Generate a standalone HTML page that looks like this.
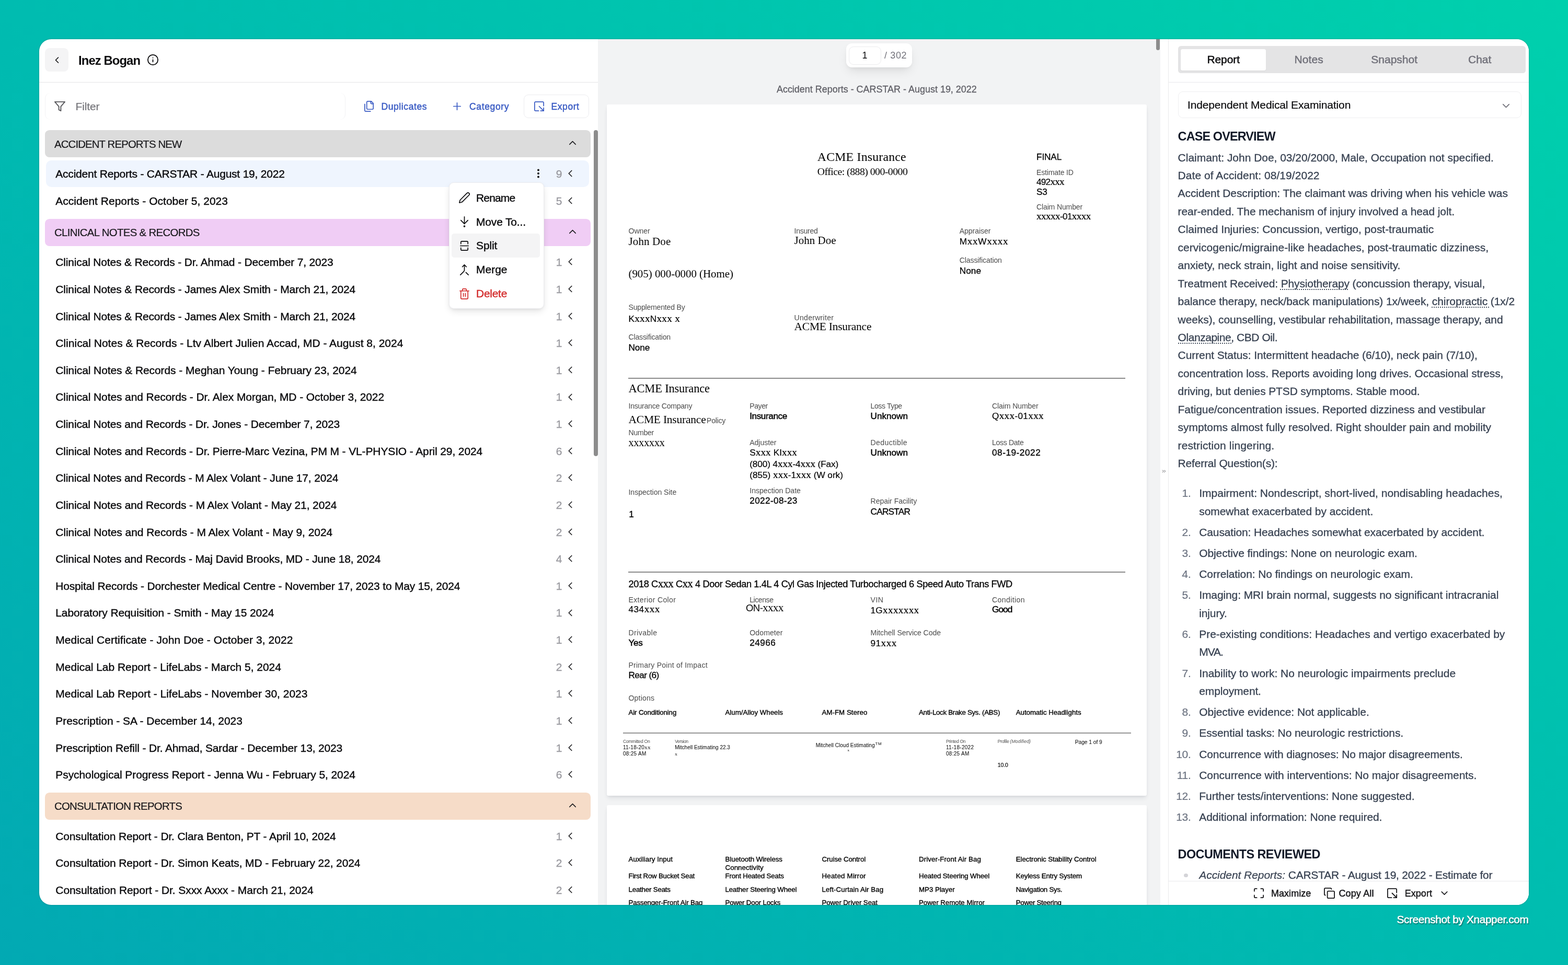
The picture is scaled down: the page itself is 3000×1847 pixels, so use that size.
<!DOCTYPE html><html lang="en"><head><meta charset="utf-8"><title>Inez Bogan - Case Documents</title><style>
*{box-sizing:border-box;margin:0;padding:0}
html,body{width:3000px;height:1847px;overflow:hidden}
body{position:relative;font-family:"Liberation Sans",sans-serif;color:#09090b;background:linear-gradient(to top right,#02a9b3 0%,#00bcb0 50%,#00d0ad 100%)}
.b,.t,.i{position:absolute;display:block}
.t{white-space:nowrap;line-height:1}
.sf{font-family:"Liberation Serif",serif}
#win{position:absolute;left:75px;top:75px;width:2850px;height:1657px;border-radius:23px;overflow:hidden;background:#fff;box-shadow:0 0 2.5px rgba(0,50,50,.4)}
#win>.o{position:absolute;left:-75px;top:-75px;width:3000px;height:1847px}
</style></head><body>
<div id="win"><div class="o">
<div class="b" style="left:86.2px;top:92px;width:45px;height:45px;background:#f4f4f5;border-radius:8.6px;"></div>
<svg class="i" style="left:99px;top:105px;width:20px;height:20px;" viewBox="0 0 24 24" fill="none" stroke="#09090b" stroke-width="1.9" stroke-linecap="round" stroke-linejoin="round"><path d="m15 18-6-6 6-6"/></svg>
<span class="t" style="left:150px;top:102px;font-size:23.8px;line-height:27px;letter-spacing:-0.88px;color:#09090b;font-weight:700;">Inez Bogan</span>
<svg class="i" style="left:280.5px;top:103.1px;width:23px;height:23px;" viewBox="0 0 24 24" fill="none" stroke="#09090b" stroke-width="1.9" stroke-linecap="round" stroke-linejoin="round"><circle cx="12" cy="12" r="10"/><path d="M12 16v-4"/><path d="M12 8h.01"/></svg>
<div class="b" style="left:75px;top:156.8px;width:1069px;height:1.4px;background:#e4e4e7;"></div>
<div class="b" style="left:86px;top:177.5px;width:575px;height:51.6px;background:#fff;border-radius:10px;border-left:1.4px solid #f1f1f3;border-right:1.4px solid #f1f1f3;"></div>
<svg class="i" style="left:102.5px;top:192.1px;width:23px;height:23px;" viewBox="0 0 24 24" fill="none" stroke="#58585c" stroke-width="2" stroke-linecap="round" stroke-linejoin="round"><polygon points="22 3 2 3 10 12.46 10 19 14 21 14 12.46 22 3"/></svg>
<span class="t" style="left:144.5px;top:192px;font-size:20.98px;line-height:23px;letter-spacing:-0.14px;color:#737378;-webkit-text-stroke:0.2px;">Filter</span>
<svg class="i" style="left:694.5px;top:192px;width:23px;height:23px;" viewBox="0 0 24 24" fill="none" stroke="#3b5cc4" stroke-width="1.8" stroke-linecap="round" stroke-linejoin="round"><path d="M20 7h-3a2 2 0 0 1-2-2V2"/><path d="M9 18a2 2 0 0 1-2-2V4a2 2 0 0 1 2-2h7l4 4v10a2 2 0 0 1-2 2Z"/><path d="M3 7.6v12.8A1.6 1.6 0 0 0 4.6 22h9.8"/></svg>
<span class="t" style="left:729.5px;top:194px;font-size:17.5px;line-height:20px;letter-spacing:0.59px;color:#3b5cc4;-webkit-text-stroke:0.5px;">Duplicates</span>
<svg class="i" style="left:862.5px;top:192px;width:23px;height:23px;" viewBox="0 0 24 24" fill="none" stroke="#3b5cc4" stroke-width="1.8" stroke-linecap="round" stroke-linejoin="round"><path d="M5 12h14"/><path d="M12 5v14"/></svg>
<span class="t" style="left:898px;top:194px;font-size:17.5px;line-height:20px;letter-spacing:0.64px;color:#3b5cc4;-webkit-text-stroke:0.5px;">Category</span>
<div class="b" style="left:1002px;top:181px;width:124.5px;height:45px;background:#fff;border-radius:9px;border:1.4px solid #ececef;"></div>
<svg class="i" style="left:1019.5px;top:192px;width:23px;height:23px;" viewBox="0 0 24 24" fill="none" stroke="#3b5cc4" stroke-width="1.8" stroke-linecap="round" stroke-linejoin="round"><path d="M21 11V5a2 2 0 0 0-2-2H5a2 2 0 0 0-2 2v14a2 2 0 0 0 2 2h6"/><path d="m21 21-9-9"/><path d="M21 15v6h-6"/></svg>
<span class="t" style="left:1054.5px;top:194px;font-size:17.5px;line-height:20px;letter-spacing:0.58px;color:#3b5cc4;-webkit-text-stroke:0.5px;">Export</span>
<div class="b" style="left:86px;top:249px;width:1044px;height:52px;background:#dcdcdc;border-radius:8.6px;"></div>
<span class="t" style="left:104px;top:265px;font-size:20.4px;line-height:22px;letter-spacing:-0.88px;color:#18181b;-webkit-text-stroke:0.2px;">ACCIDENT REPORTS NEW</span>
<svg class="i" style="left:1083.8px;top:261.8px;width:23px;height:23px;" viewBox="0 0 24 24" fill="none" stroke="#18181b" stroke-width="1.5" stroke-linecap="round" stroke-linejoin="round"><path d="m18 15-6-6-6 6"/></svg>
<div class="b" style="left:88px;top:307.1px;width:1038.5px;height:51.2px;background:#eff5fe;border-radius:10px;"></div>
<svg class="i" style="left:1018.5px;top:320.9px;width:22px;height:22px;" viewBox="0 0 24 24" fill="none" stroke="#09090b" stroke-width="2.3" stroke-linecap="round" stroke-linejoin="round"><circle cx="12" cy="12" r="1"/><circle cx="12" cy="5" r="1"/><circle cx="12" cy="19" r="1"/></svg>
<span class="t" style="left:106.3px;top:321px;font-size:20.98px;line-height:23px;letter-spacing:-0.2px;color:#09090b;-webkit-text-stroke:0.4px;">Accident Reports - CARSTAR - August 19, 2022</span>
<span class="t" style="left:1063.63px;top:321px;font-size:20.98px;line-height:23px;color:#9b9ba1;-webkit-text-stroke:0.4px;">9</span>
<svg class="i" style="left:1079.8px;top:321.1px;width:22px;height:22px;" viewBox="0 0 24 24" fill="none" stroke="#18181b" stroke-width="1.8" stroke-linecap="round" stroke-linejoin="round"><path d="m15 18-6-6 6-6"/></svg>
<span class="t" style="left:106.3px;top:373px;font-size:20.98px;line-height:23px;letter-spacing:0.03px;color:#09090b;-webkit-text-stroke:0.4px;">Accident Reports - October 5, 2023</span>
<span class="t" style="left:1063.63px;top:373px;font-size:20.98px;line-height:23px;color:#9b9ba1;-webkit-text-stroke:0.4px;">5</span>
<svg class="i" style="left:1079.8px;top:373px;width:22px;height:22px;" viewBox="0 0 24 24" fill="none" stroke="#18181b" stroke-width="1.8" stroke-linecap="round" stroke-linejoin="round"><path d="m15 18-6-6 6-6"/></svg>
<div class="b" style="left:86px;top:419.2px;width:1044px;height:51.5px;background:#f0cdf5;border-radius:8.6px;"></div>
<span class="t" style="left:104px;top:434px;font-size:20.4px;line-height:22px;letter-spacing:-0.67px;color:#18181b;-webkit-text-stroke:0.2px;">CLINICAL NOTES &amp; RECORDS</span>
<svg class="i" style="left:1083.8px;top:432px;width:23px;height:23px;" viewBox="0 0 24 24" fill="none" stroke="#18181b" stroke-width="1.5" stroke-linecap="round" stroke-linejoin="round"><path d="m18 15-6-6-6 6"/></svg>
<span class="t" style="left:106.3px;top:490px;font-size:20.98px;line-height:23px;letter-spacing:-0.15px;color:#09090b;-webkit-text-stroke:0.4px;">Clinical Notes &amp; Records - Dr. Ahmad - December 7, 2023</span>
<span class="t" style="left:1063.63px;top:490px;font-size:20.98px;line-height:23px;color:#9b9ba1;-webkit-text-stroke:0.4px;">1</span>
<svg class="i" style="left:1079.8px;top:490.4px;width:22px;height:22px;" viewBox="0 0 24 24" fill="none" stroke="#18181b" stroke-width="1.8" stroke-linecap="round" stroke-linejoin="round"><path d="m15 18-6-6 6-6"/></svg>
<span class="t" style="left:106.3px;top:542px;font-size:20.98px;line-height:23px;letter-spacing:-0.13px;color:#09090b;-webkit-text-stroke:0.4px;">Clinical Notes &amp; Records - James Alex Smith - March 21, 2024</span>
<span class="t" style="left:1063.63px;top:542px;font-size:20.98px;line-height:23px;color:#9b9ba1;-webkit-text-stroke:0.4px;">1</span>
<svg class="i" style="left:1079.8px;top:542.03px;width:22px;height:22px;" viewBox="0 0 24 24" fill="none" stroke="#18181b" stroke-width="1.8" stroke-linecap="round" stroke-linejoin="round"><path d="m15 18-6-6 6-6"/></svg>
<span class="t" style="left:106.3px;top:594px;font-size:20.98px;line-height:23px;letter-spacing:-0.13px;color:#09090b;-webkit-text-stroke:0.4px;">Clinical Notes &amp; Records - James Alex Smith - March 21, 2024</span>
<span class="t" style="left:1063.63px;top:594px;font-size:20.98px;line-height:23px;color:#9b9ba1;-webkit-text-stroke:0.4px;">1</span>
<svg class="i" style="left:1079.8px;top:593.66px;width:22px;height:22px;" viewBox="0 0 24 24" fill="none" stroke="#18181b" stroke-width="1.8" stroke-linecap="round" stroke-linejoin="round"><path d="m15 18-6-6 6-6"/></svg>
<span class="t" style="left:106.3px;top:645px;font-size:20.98px;line-height:23px;letter-spacing:0.01px;color:#09090b;-webkit-text-stroke:0.4px;">Clinical Notes &amp; Records - Ltv Albert Julien Accad, MD - August 8, 2024</span>
<span class="t" style="left:1063.63px;top:645px;font-size:20.98px;line-height:23px;color:#9b9ba1;-webkit-text-stroke:0.4px;">1</span>
<svg class="i" style="left:1079.8px;top:645.29px;width:22px;height:22px;" viewBox="0 0 24 24" fill="none" stroke="#18181b" stroke-width="1.8" stroke-linecap="round" stroke-linejoin="round"><path d="m15 18-6-6 6-6"/></svg>
<span class="t" style="left:106.3px;top:697px;font-size:20.98px;line-height:23px;letter-spacing:-0.07px;color:#09090b;-webkit-text-stroke:0.4px;">Clinical Notes &amp; Records - Meghan Young - February 23, 2024</span>
<span class="t" style="left:1063.63px;top:697px;font-size:20.98px;line-height:23px;color:#9b9ba1;-webkit-text-stroke:0.4px;">1</span>
<svg class="i" style="left:1079.8px;top:696.92px;width:22px;height:22px;" viewBox="0 0 24 24" fill="none" stroke="#18181b" stroke-width="1.8" stroke-linecap="round" stroke-linejoin="round"><path d="m15 18-6-6 6-6"/></svg>
<span class="t" style="left:106.3px;top:748px;font-size:20.98px;line-height:23px;letter-spacing:-0.08px;color:#09090b;-webkit-text-stroke:0.4px;">Clinical Notes and Records - Dr. Alex Morgan, MD - October 3, 2022</span>
<span class="t" style="left:1063.63px;top:748px;font-size:20.98px;line-height:23px;color:#9b9ba1;-webkit-text-stroke:0.4px;">1</span>
<svg class="i" style="left:1079.8px;top:748.55px;width:22px;height:22px;" viewBox="0 0 24 24" fill="none" stroke="#18181b" stroke-width="1.8" stroke-linecap="round" stroke-linejoin="round"><path d="m15 18-6-6 6-6"/></svg>
<span class="t" style="left:106.3px;top:800px;font-size:20.98px;line-height:23px;letter-spacing:-0.13px;color:#09090b;-webkit-text-stroke:0.4px;">Clinical Notes and Records - Dr. Jones - December 7, 2023</span>
<span class="t" style="left:1063.63px;top:800px;font-size:20.98px;line-height:23px;color:#9b9ba1;-webkit-text-stroke:0.4px;">1</span>
<svg class="i" style="left:1079.8px;top:800.18px;width:22px;height:22px;" viewBox="0 0 24 24" fill="none" stroke="#18181b" stroke-width="1.8" stroke-linecap="round" stroke-linejoin="round"><path d="m15 18-6-6 6-6"/></svg>
<span class="t" style="left:106.3px;top:852px;font-size:20.98px;line-height:23px;letter-spacing:-0.11px;color:#09090b;-webkit-text-stroke:0.4px;">Clinical Notes and Records - Dr. Pierre-Marc Vezina, PM M - VL-PHYSIO - April 29, 2024</span>
<span class="t" style="left:1063.63px;top:852px;font-size:20.98px;line-height:23px;color:#9b9ba1;-webkit-text-stroke:0.4px;">6</span>
<svg class="i" style="left:1079.8px;top:851.81px;width:22px;height:22px;" viewBox="0 0 24 24" fill="none" stroke="#18181b" stroke-width="1.8" stroke-linecap="round" stroke-linejoin="round"><path d="m15 18-6-6 6-6"/></svg>
<span class="t" style="left:106.3px;top:903px;font-size:20.98px;line-height:23px;letter-spacing:-0.16px;color:#09090b;-webkit-text-stroke:0.4px;">Clinical Notes and Records - M Alex Volant - June 17, 2024</span>
<span class="t" style="left:1063.63px;top:903px;font-size:20.98px;line-height:23px;color:#9b9ba1;-webkit-text-stroke:0.4px;">2</span>
<svg class="i" style="left:1079.8px;top:903.44px;width:22px;height:22px;" viewBox="0 0 24 24" fill="none" stroke="#18181b" stroke-width="1.8" stroke-linecap="round" stroke-linejoin="round"><path d="m15 18-6-6 6-6"/></svg>
<span class="t" style="left:106.3px;top:955px;font-size:20.98px;line-height:23px;letter-spacing:-0.11px;color:#09090b;-webkit-text-stroke:0.4px;">Clinical Notes and Records - M Alex Volant - May 21, 2024</span>
<span class="t" style="left:1063.63px;top:955px;font-size:20.98px;line-height:23px;color:#9b9ba1;-webkit-text-stroke:0.4px;">2</span>
<svg class="i" style="left:1079.8px;top:955.07px;width:22px;height:22px;" viewBox="0 0 24 24" fill="none" stroke="#18181b" stroke-width="1.8" stroke-linecap="round" stroke-linejoin="round"><path d="m15 18-6-6 6-6"/></svg>
<span class="t" style="left:106.3px;top:1007px;font-size:20.98px;line-height:23px;letter-spacing:-0.05px;color:#09090b;-webkit-text-stroke:0.4px;">Clinical Notes and Records - M Alex Volant - May 9, 2024</span>
<span class="t" style="left:1063.63px;top:1007px;font-size:20.98px;line-height:23px;color:#9b9ba1;-webkit-text-stroke:0.4px;">2</span>
<svg class="i" style="left:1079.8px;top:1006.7px;width:22px;height:22px;" viewBox="0 0 24 24" fill="none" stroke="#18181b" stroke-width="1.8" stroke-linecap="round" stroke-linejoin="round"><path d="m15 18-6-6 6-6"/></svg>
<span class="t" style="left:106.3px;top:1058px;font-size:20.98px;line-height:23px;letter-spacing:-0.15px;color:#09090b;-webkit-text-stroke:0.4px;">Clinical Notes and Records - Maj David Brooks, MD - June 18, 2024</span>
<span class="t" style="left:1063.63px;top:1058px;font-size:20.98px;line-height:23px;color:#9b9ba1;-webkit-text-stroke:0.4px;">4</span>
<svg class="i" style="left:1079.8px;top:1058.33px;width:22px;height:22px;" viewBox="0 0 24 24" fill="none" stroke="#18181b" stroke-width="1.8" stroke-linecap="round" stroke-linejoin="round"><path d="m15 18-6-6 6-6"/></svg>
<span class="t" style="left:106.3px;top:1110px;font-size:20.98px;line-height:23px;letter-spacing:-0.16px;color:#09090b;-webkit-text-stroke:0.4px;">Hospital Records - Dorchester Medical Centre - November 17, 2023 to May 15, 2024</span>
<span class="t" style="left:1063.63px;top:1110px;font-size:20.98px;line-height:23px;color:#9b9ba1;-webkit-text-stroke:0.4px;">1</span>
<svg class="i" style="left:1079.8px;top:1109.96px;width:22px;height:22px;" viewBox="0 0 24 24" fill="none" stroke="#18181b" stroke-width="1.8" stroke-linecap="round" stroke-linejoin="round"><path d="m15 18-6-6 6-6"/></svg>
<span class="t" style="left:106.3px;top:1161px;font-size:20.98px;line-height:23px;letter-spacing:-0.09px;color:#09090b;-webkit-text-stroke:0.4px;">Laboratory Requisition - Smith - May 15 2024</span>
<span class="t" style="left:1063.63px;top:1161px;font-size:20.98px;line-height:23px;color:#9b9ba1;-webkit-text-stroke:0.4px;">1</span>
<svg class="i" style="left:1079.8px;top:1161.59px;width:22px;height:22px;" viewBox="0 0 24 24" fill="none" stroke="#18181b" stroke-width="1.8" stroke-linecap="round" stroke-linejoin="round"><path d="m15 18-6-6 6-6"/></svg>
<span class="t" style="left:106.3px;top:1213px;font-size:20.98px;line-height:23px;letter-spacing:0.09px;color:#09090b;-webkit-text-stroke:0.4px;">Medical Certificate - John Doe - October 3, 2022</span>
<span class="t" style="left:1063.63px;top:1213px;font-size:20.98px;line-height:23px;color:#9b9ba1;-webkit-text-stroke:0.4px;">1</span>
<svg class="i" style="left:1079.8px;top:1213.22px;width:22px;height:22px;" viewBox="0 0 24 24" fill="none" stroke="#18181b" stroke-width="1.8" stroke-linecap="round" stroke-linejoin="round"><path d="m15 18-6-6 6-6"/></svg>
<span class="t" style="left:106.3px;top:1265px;font-size:20.98px;line-height:23px;letter-spacing:-0.02px;color:#09090b;-webkit-text-stroke:0.4px;">Medical Lab Report - LifeLabs - March 5, 2024</span>
<span class="t" style="left:1063.63px;top:1265px;font-size:20.98px;line-height:23px;color:#9b9ba1;-webkit-text-stroke:0.4px;">2</span>
<svg class="i" style="left:1079.8px;top:1264.85px;width:22px;height:22px;" viewBox="0 0 24 24" fill="none" stroke="#18181b" stroke-width="1.8" stroke-linecap="round" stroke-linejoin="round"><path d="m15 18-6-6 6-6"/></svg>
<span class="t" style="left:106.3px;top:1316px;font-size:20.98px;line-height:23px;letter-spacing:-0.01px;color:#09090b;-webkit-text-stroke:0.4px;">Medical Lab Report - LifeLabs - November 30, 2023</span>
<span class="t" style="left:1063.63px;top:1316px;font-size:20.98px;line-height:23px;color:#9b9ba1;-webkit-text-stroke:0.4px;">1</span>
<svg class="i" style="left:1079.8px;top:1316.48px;width:22px;height:22px;" viewBox="0 0 24 24" fill="none" stroke="#18181b" stroke-width="1.8" stroke-linecap="round" stroke-linejoin="round"><path d="m15 18-6-6 6-6"/></svg>
<span class="t" style="left:106.3px;top:1368px;font-size:20.98px;line-height:23px;letter-spacing:-0.04px;color:#09090b;-webkit-text-stroke:0.4px;">Prescription - SA - December 14, 2023</span>
<span class="t" style="left:1063.63px;top:1368px;font-size:20.98px;line-height:23px;color:#9b9ba1;-webkit-text-stroke:0.4px;">1</span>
<svg class="i" style="left:1079.8px;top:1368.11px;width:22px;height:22px;" viewBox="0 0 24 24" fill="none" stroke="#18181b" stroke-width="1.8" stroke-linecap="round" stroke-linejoin="round"><path d="m15 18-6-6 6-6"/></svg>
<span class="t" style="left:106.3px;top:1420px;font-size:20.98px;line-height:23px;letter-spacing:-0.14px;color:#09090b;-webkit-text-stroke:0.4px;">Prescription Refill - Dr. Ahmad, Sardar - December 13, 2023</span>
<span class="t" style="left:1063.63px;top:1420px;font-size:20.98px;line-height:23px;color:#9b9ba1;-webkit-text-stroke:0.4px;">1</span>
<svg class="i" style="left:1079.8px;top:1419.74px;width:22px;height:22px;" viewBox="0 0 24 24" fill="none" stroke="#18181b" stroke-width="1.8" stroke-linecap="round" stroke-linejoin="round"><path d="m15 18-6-6 6-6"/></svg>
<span class="t" style="left:106.3px;top:1471px;font-size:20.98px;line-height:23px;letter-spacing:-0.07px;color:#09090b;-webkit-text-stroke:0.4px;">Psychological Progress Report - Jenna Wu - February 5, 2024</span>
<span class="t" style="left:1063.63px;top:1471px;font-size:20.98px;line-height:23px;color:#9b9ba1;-webkit-text-stroke:0.4px;">6</span>
<svg class="i" style="left:1079.8px;top:1471.37px;width:22px;height:22px;" viewBox="0 0 24 24" fill="none" stroke="#18181b" stroke-width="1.8" stroke-linecap="round" stroke-linejoin="round"><path d="m15 18-6-6 6-6"/></svg>
<div class="b" style="left:86px;top:1517.2px;width:1044px;height:51.5px;background:#f6dcc8;border-radius:8.6px;"></div>
<span class="t" style="left:104px;top:1532px;font-size:20.4px;line-height:22px;letter-spacing:-0.75px;color:#18181b;-webkit-text-stroke:0.2px;">CONSULTATION REPORTS</span>
<svg class="i" style="left:1083.8px;top:1530px;width:23px;height:23px;" viewBox="0 0 24 24" fill="none" stroke="#18181b" stroke-width="1.5" stroke-linecap="round" stroke-linejoin="round"><path d="m18 15-6-6-6 6"/></svg>
<span class="t" style="left:106.3px;top:1589px;font-size:20.98px;line-height:23px;letter-spacing:-0.13px;color:#09090b;-webkit-text-stroke:0.4px;">Consultation Report - Dr. Clara Benton, PT - April 10, 2024</span>
<span class="t" style="left:1063.63px;top:1589px;font-size:20.98px;line-height:23px;color:#9b9ba1;-webkit-text-stroke:0.4px;">1</span>
<svg class="i" style="left:1079.8px;top:1588.7px;width:22px;height:22px;" viewBox="0 0 24 24" fill="none" stroke="#18181b" stroke-width="1.8" stroke-linecap="round" stroke-linejoin="round"><path d="m15 18-6-6 6-6"/></svg>
<span class="t" style="left:106.3px;top:1640px;font-size:20.98px;line-height:23px;letter-spacing:-0.11px;color:#09090b;-webkit-text-stroke:0.4px;">Consultation Report - Dr. Simon Keats, MD - February 22, 2024</span>
<span class="t" style="left:1063.63px;top:1640px;font-size:20.98px;line-height:23px;color:#9b9ba1;-webkit-text-stroke:0.4px;">2</span>
<svg class="i" style="left:1079.8px;top:1640.4px;width:22px;height:22px;" viewBox="0 0 24 24" fill="none" stroke="#18181b" stroke-width="1.8" stroke-linecap="round" stroke-linejoin="round"><path d="m15 18-6-6 6-6"/></svg>
<span class="t" style="left:106.3px;top:1692px;font-size:20.98px;line-height:23px;letter-spacing:-0.06px;color:#09090b;-webkit-text-stroke:0.4px;">Consultation Report - Dr. Sxxx Axxx - March 21, 2024</span>
<span class="t" style="left:1063.63px;top:1692px;font-size:20.98px;line-height:23px;color:#9b9ba1;-webkit-text-stroke:0.4px;">2</span>
<svg class="i" style="left:1079.8px;top:1692.1px;width:22px;height:22px;" viewBox="0 0 24 24" fill="none" stroke="#18181b" stroke-width="1.8" stroke-linecap="round" stroke-linejoin="round"><path d="m15 18-6-6 6-6"/></svg>
<div class="b" style="left:1136px;top:249px;width:7.8px;height:624px;background:#8c8c8c;border-radius:4px;"></div>
<div class="b" style="left:858.6px;top:349.4px;width:182.2px;height:241.2px;background:#fff;border-radius:9px;border:1.4px solid #ececef;box-shadow:0 6px 14px -2px rgba(0,0,0,.12),0 2px 6px -2px rgba(0,0,0,.08);"></div>
<div class="b" style="left:864.3px;top:447px;width:168.8px;height:45.6px;background:#f4f4f5;border-radius:5px;"></div>
<svg class="i" style="left:876.5px;top:367.3px;width:23px;height:23px;" viewBox="0 0 24 24" fill="none" stroke="#09090b" stroke-width="1.75" stroke-linecap="round" stroke-linejoin="round"><path d="M21.174 6.812a1 1 0 0 0-3.986-3.987L3.842 16.174a2 2 0 0 0-.5.83l-1.321 4.352a.5.5 0 0 0 .623.622l4.353-1.32a2 2 0 0 0 .83-.497z"/></svg>
<span class="t" style="left:911px;top:367px;font-size:20.98px;line-height:23px;letter-spacing:-0.82px;color:#09090b;-webkit-text-stroke:0.4px;">Rename</span>
<svg class="i" style="left:876.5px;top:413.3px;width:23px;height:23px;" viewBox="0 0 24 24" fill="none" stroke="#09090b" stroke-width="1.75" stroke-linecap="round" stroke-linejoin="round"><path d="M12 2v14"/><path d="m19 9-7 7-7-7"/><circle cx="12" cy="21" r="1"/></svg>
<span class="t" style="left:911px;top:413px;font-size:20.98px;line-height:23px;letter-spacing:-0.15px;color:#09090b;-webkit-text-stroke:0.4px;">Move To...</span>
<svg class="i" style="left:876.5px;top:458.8px;width:23px;height:23px;" viewBox="0 0 24 24" fill="none" stroke="#09090b" stroke-width="1.75" stroke-linecap="round" stroke-linejoin="round"><path d="M5 8V5c0-1 1-2 2-2h10c1 0 2 1 2 2v3"/><path d="M19 16v3c0 1-1 2-2 2H7c-1 0-2-1-2-2v-3"/><line x1="4" x2="20" y1="12" y2="12"/></svg>
<span class="t" style="left:911px;top:458px;font-size:20.98px;line-height:23px;letter-spacing:-0.09px;color:#09090b;-webkit-text-stroke:0.4px;">Split</span>
<svg class="i" style="left:876.5px;top:505.1px;width:23px;height:23px;" viewBox="0 0 24 24" fill="none" stroke="#09090b" stroke-width="1.75" stroke-linecap="round" stroke-linejoin="round"><path d="m8 6 4-4 4 4"/><path d="M12 2v10.3a4 4 0 0 1-1.172 2.872L4 22"/><path d="m20 22-5-5"/></svg>
<span class="t" style="left:911px;top:504px;font-size:20.98px;line-height:23px;letter-spacing:0.01px;color:#09090b;-webkit-text-stroke:0.4px;">Merge</span>
<svg class="i" style="left:876.5px;top:550.8px;width:23px;height:23px;" viewBox="0 0 24 24" fill="none" stroke="#d32b2b" stroke-width="1.75" stroke-linecap="round" stroke-linejoin="round"><path d="M3 6h18"/><path d="M19 6v14c0 1-1 2-2 2H7c-1 0-2-1-2-2V6"/><path d="M8 6V4c0-1 1-2 2-2h4c1 0 2 1 2 2v2"/><line x1="10" x2="10" y1="11" y2="17"/><line x1="14" x2="14" y1="11" y2="17"/></svg>
<span class="t" style="left:911px;top:550px;font-size:20.98px;line-height:23px;letter-spacing:-0.26px;color:#d32b2b;-webkit-text-stroke:0.4px;">Delete</span>
<div class="b" style="left:1144px;top:75px;width:1076px;height:1657px;background:#f2f3f4;"></div>
<div class="b" style="left:2219.5px;top:75px;width:16px;height:1657px;background:#fff;"></div>
<div class="b" style="left:2211.5px;top:75px;width:7.5px;height:21px;background:#8c8c8c;border-radius:0 0 4px 4px;"></div>
<svg class="i" style="left:2223.4px;top:898.2px;width:8px;height:8px" viewBox="0 0 24 24" fill="none" stroke="#3f3f46" stroke-width="2.6" stroke-linecap="round" stroke-linejoin="round"><path d="m4 18 6-6-6-6"/><path d="m14 18 6-6-6-6"/></svg>
<div class="b" style="left:1161px;top:200px;width:1033px;height:1322.6px;background:#fff;border-radius:3px;box-shadow:0 6px 10px -2px rgba(30,40,60,.10),0 2px 4px -1px rgba(30,40,60,.07);"></div>
<div class="b" style="left:1161px;top:1541px;width:1033px;height:400px;background:#fff;border-radius:3px;box-shadow:0 6px 10px -2px rgba(30,40,60,.10),0 2px 4px -1px rgba(30,40,60,.07);"></div>
<span class="t" style="left:1485.95px;top:161px;font-size:17.97px;line-height:20px;color:#5f5f66;-webkit-text-stroke:0.3px;">Accident Reports - CARSTAR - August 19, 2022</span>
<div class="b" style="left:1618.6px;top:82.8px;width:126.6px;height:45.8px;background:#fff;border-radius:11px;box-shadow:0 10px 20px -4px rgba(0,0,0,.10),0 4px 8px -4px rgba(0,0,0,.08);"></div>
<div class="b" style="left:1623.5px;top:89px;width:62.5px;height:34.5px;background:#fff;border-radius:9px;border:1.4px solid #ececee;"></div>
<span class="t" style="left:1649.5px;top:96px;font-size:17.97px;line-height:20px;color:#09090b;">1</span>
<span class="t" style="left:1692px;top:96px;font-size:17.97px;line-height:20px;letter-spacing:0.64px;color:#71717a;">/ 302</span>
<span class="t sf" style="left:1563.75px;top:287px;font-size:23.8px;line-height:26px;letter-spacing:0.21px;color:#000;">ACME Insurance</span>
<span class="t sf" style="left:1563.75px;top:317px;font-size:19.8px;line-height:22px;letter-spacing:-0.53px;color:#000;">Office: (888) 000-0000</span>
<span class="t" style="left:1983px;top:290px;font-size:17.2px;line-height:20px;letter-spacing:-0.12px;color:#000;-webkit-text-stroke:0.3px;">FINAL</span>
<span class="t" style="left:1983px;top:322px;font-size:14.1px;line-height:16px;letter-spacing:-0.19px;color:#4d4d4d;">Estimate ID</span>
<span class="t" style="left:1983px;top:338px;font-size:17.2px;line-height:20px;letter-spacing:-0.77px;color:#000;-webkit-text-stroke:0.2px;">492<span class="sf" style="font-size:19.26px;line-height:0">xxx</span></span>
<span class="t" style="left:1983px;top:357px;font-size:17.2px;line-height:20px;letter-spacing:-0.3px;color:#000;-webkit-text-stroke:0.3px;">S3</span>
<span class="t" style="left:1983px;top:388px;font-size:14.1px;line-height:16px;letter-spacing:-0.17px;color:#4d4d4d;">Claim Number</span>
<span class="t" style="left:1983px;top:404px;font-size:17.2px;line-height:20px;letter-spacing:-0.64px;color:#000;-webkit-text-stroke:0.2px;"><span class="sf" style="font-size:19.26px;line-height:0">xxxxx</span>-01<span class="sf" style="font-size:19.26px;line-height:0">xxxx</span></span>
<span class="t" style="left:1202.5px;top:434px;font-size:14.1px;line-height:16px;letter-spacing:-0.07px;color:#4d4d4d;">Owner</span>
<span class="t sf" style="left:1202.5px;top:450px;font-size:21px;line-height:24px;letter-spacing:0.12px;color:#000;">John Doe</span>
<span class="t" style="left:1519.5px;top:434px;font-size:14.1px;line-height:16px;letter-spacing:-0.26px;color:#4d4d4d;">Insured</span>
<span class="t sf" style="left:1519.5px;top:448px;font-size:21px;line-height:24px;letter-spacing:0.01px;color:#000;">John Doe</span>
<span class="t" style="left:1835.75px;top:434px;font-size:14.1px;line-height:16px;letter-spacing:-0.07px;color:#4d4d4d;">Appraiser</span>
<span class="t" style="left:1835.75px;top:452px;font-size:17.2px;line-height:20px;letter-spacing:0.66px;color:#000;-webkit-text-stroke:0.2px;">M<span class="sf" style="font-size:19.26px;line-height:0">xx</span>W<span class="sf" style="font-size:19.26px;line-height:0">xxxx</span></span>
<span class="t" style="left:1835.75px;top:490px;font-size:14.1px;line-height:16px;letter-spacing:-0.14px;color:#4d4d4d;">Classification</span>
<span class="t" style="left:1835.75px;top:508px;font-size:17.2px;line-height:20px;letter-spacing:0.04px;color:#000;-webkit-text-stroke:0.3px;">None</span>
<span class="t sf" style="left:1202.5px;top:512px;font-size:21px;line-height:24px;letter-spacing:-0.06px;color:#000;">(905) 000-0000 (Home)</span>
<span class="t" style="left:1202.5px;top:580px;font-size:14.1px;line-height:16px;letter-spacing:-0.22px;color:#4d4d4d;">Supplemented By</span>
<span class="t" style="left:1202.5px;top:600px;font-size:17.2px;line-height:20px;letter-spacing:0.24px;color:#000;-webkit-text-stroke:0.2px;">K<span class="sf" style="font-size:19.26px;line-height:0">xxx</span>N<span class="sf" style="font-size:19.26px;line-height:0">xxx x</span></span>
<span class="t" style="left:1202.5px;top:637px;font-size:14.1px;line-height:16px;letter-spacing:-0.18px;color:#4d4d4d;">Classification</span>
<span class="t" style="left:1202.5px;top:655px;font-size:17.2px;line-height:20px;letter-spacing:-0.12px;color:#000;-webkit-text-stroke:0.3px;">None</span>
<span class="t" style="left:1519.5px;top:600px;font-size:14.1px;line-height:16px;letter-spacing:0.26px;color:#4d4d4d;">Underwriter</span>
<span class="t sf" style="left:1519.5px;top:613px;font-size:21.5px;line-height:24px;letter-spacing:-0.24px;color:#000;">ACME Insurance</span>
<div class="b" style="left:1202px;top:723px;width:951px;height:2px;background:#8a8a8a;"></div>
<span class="t sf" style="left:1202.5px;top:731px;font-size:22.5px;line-height:25px;letter-spacing:-0.2px;color:#000;">ACME Insurance</span>
<span class="t" style="left:1202.5px;top:769px;font-size:14.1px;line-height:16px;letter-spacing:-0.26px;color:#4d4d4d;">Insurance Company</span>
<span class="t sf" style="left:1202.5px;top:791px;font-size:21.5px;line-height:24px;letter-spacing:-0.22px;color:#000;">ACME Insurance</span>
<span class="t" style="left:1352px;top:797px;font-size:14.1px;line-height:16px;letter-spacing:-0.27px;color:#4d4d4d;">Policy</span>
<span class="t" style="left:1202.5px;top:820px;font-size:14.1px;line-height:16px;letter-spacing:-0.28px;color:#4d4d4d;">Number</span>
<span class="t sf" style="left:1202.5px;top:836px;font-size:20px;line-height:22px;letter-spacing:-0.12px;color:#000;">xxxxxxx</span>
<span class="t" style="left:1434.25px;top:769px;font-size:14.1px;line-height:16px;letter-spacing:-0.46px;color:#4d4d4d;">Payer</span>
<span class="t" style="left:1434.25px;top:786px;font-size:17.2px;line-height:20px;letter-spacing:-0.44px;color:#000;-webkit-text-stroke:0.45px;">Insurance</span>
<span class="t" style="left:1434.25px;top:839px;font-size:14.1px;line-height:16px;letter-spacing:-0.07px;color:#4d4d4d;">Adjuster</span>
<span class="t" style="left:1434.25px;top:856px;font-size:17.2px;line-height:20px;letter-spacing:0.05px;color:#000;-webkit-text-stroke:0.2px;">S<span class="sf" style="font-size:19.26px;line-height:0">xxx </span>KI<span class="sf" style="font-size:19.26px;line-height:0">xxx</span></span>
<span class="t" style="left:1434.25px;top:878px;font-size:17.2px;line-height:20px;letter-spacing:-0.12px;color:#000;-webkit-text-stroke:0.2px;">(800) 4<span class="sf" style="font-size:19.26px;line-height:0">xxx</span>-4<span class="sf" style="font-size:19.26px;line-height:0">xxx</span> (Fax)</span>
<span class="t" style="left:1434.25px;top:899px;font-size:17.2px;line-height:20px;letter-spacing:-0.02px;color:#000;-webkit-text-stroke:0.2px;">(855) <span class="sf" style="font-size:19.26px;line-height:0">xxx</span>-1<span class="sf" style="font-size:19.26px;line-height:0">xxx</span> (W ork)</span>
<span class="t" style="left:1665.5px;top:769px;font-size:14.1px;line-height:16px;letter-spacing:-0.41px;color:#4d4d4d;">Loss Type</span>
<span class="t" style="left:1665.5px;top:786px;font-size:17.2px;line-height:20px;letter-spacing:-0.03px;color:#000;-webkit-text-stroke:0.45px;">Unknown</span>
<span class="t" style="left:1665.5px;top:839px;font-size:14.1px;line-height:16px;letter-spacing:0.38px;color:#4d4d4d;">Deductible</span>
<span class="t" style="left:1665.5px;top:856px;font-size:17.2px;line-height:20px;letter-spacing:-0.03px;color:#000;-webkit-text-stroke:0.45px;">Unknown</span>
<span class="t" style="left:1898px;top:769px;font-size:14.1px;line-height:16px;letter-spacing:-0.12px;color:#4d4d4d;">Claim Number</span>
<span class="t" style="left:1898px;top:786px;font-size:17.2px;line-height:20px;letter-spacing:0.3px;color:#000;-webkit-text-stroke:0.2px;">Q<span class="sf" style="font-size:19.26px;line-height:0">xxx</span>-01<span class="sf" style="font-size:19.26px;line-height:0">xxx</span></span>
<span class="t" style="left:1898px;top:839px;font-size:14.1px;line-height:16px;letter-spacing:-0.34px;color:#4d4d4d;">Loss Date</span>
<span class="t" style="left:1898px;top:856px;font-size:17.2px;line-height:20px;letter-spacing:0.53px;color:#000;-webkit-text-stroke:0.3px;">08-19-2022</span>
<span class="t" style="left:1202.5px;top:934px;font-size:14.1px;line-height:16px;letter-spacing:-0.05px;color:#4d4d4d;">Inspection Site</span>
<span class="t" style="left:1203.25px;top:974px;font-size:17.2px;line-height:20px;color:#000;-webkit-text-stroke:0.3px;">1</span>
<span class="t" style="left:1434.25px;top:931px;font-size:14.1px;line-height:16px;letter-spacing:-0.02px;color:#4d4d4d;">Inspection Date</span>
<span class="t" style="left:1434.25px;top:948px;font-size:17.2px;line-height:20px;letter-spacing:0.36px;color:#000;-webkit-text-stroke:0.3px;">2022-08-23</span>
<span class="t" style="left:1665.5px;top:951px;font-size:14.1px;line-height:16px;letter-spacing:-0.04px;color:#4d4d4d;">Repair Facility</span>
<span class="t" style="left:1665.5px;top:969px;font-size:17.2px;line-height:20px;letter-spacing:-0.74px;color:#000;-webkit-text-stroke:0.3px;">CARSTAR</span>
<div class="b" style="left:1202px;top:1094px;width:951px;height:2px;background:#8a8a8a;"></div>
<span class="t" style="left:1202.5px;top:1108px;font-size:18.2px;line-height:20px;letter-spacing:-0.38px;color:#000;-webkit-text-stroke:0.3px;">2018 C<span class="sf" style="font-size:20.38px;line-height:0">xxx</span> C<span class="sf" style="font-size:20.38px;line-height:0">xx</span> 4 Door Sedan 1.4L 4 Cyl Gas Injected Turbocharged 6 Speed Auto Trans FWD</span>
<span class="t" style="left:1202.5px;top:1140px;font-size:14.1px;line-height:16px;letter-spacing:0.33px;color:#4d4d4d;">Exterior Color</span>
<span class="t" style="left:1202.5px;top:1156px;font-size:17.2px;line-height:20px;letter-spacing:0.48px;color:#000;-webkit-text-stroke:0.2px;">434<span class="sf" style="font-size:19.26px;line-height:0">xxx</span></span>
<span class="t" style="left:1434.25px;top:1140px;font-size:14.1px;line-height:16px;letter-spacing:-0.47px;color:#4d4d4d;">License</span>
<span class="t" style="left:1427px;top:1153px;font-size:18.5px;line-height:21px;letter-spacing:-0.52px;color:#000;">ON-<span class="sf" style="font-size:20.72px;line-height:0">xxxx</span></span>
<span class="t" style="left:1665.5px;top:1140px;font-size:14.1px;line-height:16px;letter-spacing:0.5px;color:#4d4d4d;">VIN</span>
<span class="t" style="left:1665.5px;top:1158px;font-size:17.2px;line-height:20px;letter-spacing:0.3px;color:#000;-webkit-text-stroke:0.2px;">1G<span class="sf" style="font-size:19.26px;line-height:0">xxxxxxx</span></span>
<span class="t" style="left:1898px;top:1140px;font-size:14.1px;line-height:16px;letter-spacing:0.37px;color:#4d4d4d;">Condition</span>
<span class="t" style="left:1898px;top:1156px;font-size:17.2px;line-height:20px;letter-spacing:-0.93px;color:#000;-webkit-text-stroke:0.45px;">Good</span>
<span class="t" style="left:1202.5px;top:1203px;font-size:14.1px;line-height:16px;letter-spacing:0.4px;color:#4d4d4d;">Drivable</span>
<span class="t" style="left:1202.5px;top:1220px;font-size:17.2px;line-height:20px;letter-spacing:-0.3px;color:#000;-webkit-text-stroke:0.45px;">Yes</span>
<span class="t" style="left:1434.25px;top:1203px;font-size:14.1px;line-height:16px;letter-spacing:0.08px;color:#4d4d4d;">Odometer</span>
<span class="t" style="left:1434.25px;top:1220px;font-size:17.2px;line-height:20px;letter-spacing:0.42px;color:#000;-webkit-text-stroke:0.3px;">24966</span>
<span class="t" style="left:1665.5px;top:1203px;font-size:14.1px;line-height:16px;letter-spacing:-0.09px;color:#4d4d4d;">Mitchell Service Code</span>
<span class="t" style="left:1665.5px;top:1221px;font-size:17.2px;line-height:20px;letter-spacing:0.49px;color:#000;-webkit-text-stroke:0.2px;">91<span class="sf" style="font-size:19.26px;line-height:0">xxx</span></span>
<span class="t" style="left:1202.5px;top:1265px;font-size:14.1px;line-height:16px;letter-spacing:0.21px;color:#4d4d4d;">Primary Point of Impact</span>
<span class="t" style="left:1202.5px;top:1282px;font-size:17.2px;line-height:20px;letter-spacing:-0.62px;color:#000;-webkit-text-stroke:0.3px;">Rear (6)</span>
<span class="t" style="left:1202.5px;top:1328px;font-size:14.1px;line-height:16px;letter-spacing:0.15px;color:#4d4d4d;">Options</span>
<span class="t" style="left:1202.5px;top:1356px;font-size:13.3px;line-height:15px;letter-spacing:-0.14px;color:#000;-webkit-text-stroke:0.35px;">Air Conditioning</span>
<span class="t" style="left:1387.5px;top:1356px;font-size:13.3px;line-height:15px;letter-spacing:-0.02px;color:#000;-webkit-text-stroke:0.35px;">Alum/Alloy Wheels</span>
<span class="t" style="left:1572.5px;top:1356px;font-size:13.3px;line-height:15px;letter-spacing:0.03px;color:#000;-webkit-text-stroke:0.35px;">AM-FM Stereo</span>
<span class="t" style="left:1758px;top:1356px;font-size:13.3px;line-height:15px;letter-spacing:-0.29px;color:#000;-webkit-text-stroke:0.35px;">Anti-Lock Brake Sys. (ABS)</span>
<span class="t" style="left:1943.75px;top:1356px;font-size:13.3px;line-height:15px;letter-spacing:-0.04px;color:#000;-webkit-text-stroke:0.35px;">Automatic Headlights</span>
<div class="b" style="left:1192px;top:1402px;width:972px;height:2px;background:#959595;"></div>
<span class="t" style="left:1192px;top:1414px;font-size:8.6px;line-height:10px;letter-spacing:-0.34px;color:#4d4d4d;">Committed On</span>
<span class="t" style="left:1192px;top:1425px;font-size:10px;line-height:11px;letter-spacing:0.22px;color:#000;">11-18-20<span class="sf" style="font-size:11.2px;line-height:0">xx</span></span>
<span class="t" style="left:1192px;top:1437px;font-size:10px;line-height:11px;letter-spacing:0.29px;color:#000;">08:25 AM</span>
<span class="t" style="left:1291.25px;top:1414px;font-size:8.6px;line-height:10px;letter-spacing:-0.46px;color:#4d4d4d;">Version</span>
<span class="t" style="left:1291.25px;top:1425px;font-size:10px;line-height:11px;color:#000;">Mitchell Estimating 22.3</span>
<span class="t sf" style="left:1291.25px;top:1438px;font-size:9px;line-height:10px;color:#000;">x</span>
<span class="t" style="left:1560.75px;top:1421px;font-size:10px;line-height:11px;letter-spacing:0.03px;color:#000;">Mitchell Cloud Estimating</span>
<span class="t" style="left:1674.5px;top:1419px;font-size:8px;line-height:9px;letter-spacing:0.6px;color:#000;">TM</span>
<span class="t sf" style="left:1621.5px;top:1432px;font-size:7px;line-height:8px;color:#000;">x</span>
<span class="t" style="left:1810px;top:1414px;font-size:8.6px;line-height:10px;letter-spacing:-0.4px;color:#4d4d4d;">Printed On</span>
<span class="t" style="left:1810px;top:1425px;font-size:10px;line-height:11px;letter-spacing:0.29px;color:#000;">11-18-2022</span>
<span class="t" style="left:1810px;top:1437px;font-size:10px;line-height:11px;letter-spacing:0.29px;color:#000;">08:25 AM</span>
<span class="t" style="left:1908.75px;top:1414px;font-size:8.6px;line-height:10px;letter-spacing:-0.35px;color:#4d4d4d;">Profile</span>
<span class="t" style="left:1932.5px;top:1414px;font-size:8.6px;line-height:10px;letter-spacing:0.14px;color:#4d4d4d;font-style:italic;">(Modified)</span>
<span class="t" style="left:1908.75px;top:1458px;font-size:10.5px;line-height:12px;letter-spacing:-0.15px;color:#000;-webkit-text-stroke:0.2px;">10.0</span>
<span class="t" style="left:2056.75px;top:1415px;font-size:10.3px;line-height:11px;letter-spacing:-0.07px;color:#000;">Page 1 of 9</span>
<span class="t" style="left:1202.5px;top:1637px;font-size:13.3px;line-height:15px;letter-spacing:0.07px;color:#000;-webkit-text-stroke:0.35px;">Auxiliary Input</span>
<span class="t" style="left:1387.5px;top:1637px;font-size:13.3px;line-height:15px;letter-spacing:-0.08px;color:#000;-webkit-text-stroke:0.35px;">Bluetooth Wireless</span>
<span class="t" style="left:1572.5px;top:1637px;font-size:13.3px;line-height:15px;letter-spacing:-0.1px;color:#000;-webkit-text-stroke:0.35px;">Cruise Control</span>
<span class="t" style="left:1758px;top:1637px;font-size:13.3px;line-height:15px;letter-spacing:0.07px;color:#000;-webkit-text-stroke:0.35px;">Driver-Front Air Bag</span>
<span class="t" style="left:1943.75px;top:1637px;font-size:13.3px;line-height:15px;letter-spacing:-0.05px;color:#000;-webkit-text-stroke:0.35px;">Electronic Stability Control</span>
<span class="t" style="left:1202.5px;top:1669px;font-size:13.3px;line-height:15px;letter-spacing:-0.24px;color:#000;-webkit-text-stroke:0.35px;">First Row Bucket Seat</span>
<span class="t" style="left:1387.5px;top:1669px;font-size:13.3px;line-height:15px;letter-spacing:-0.17px;color:#000;-webkit-text-stroke:0.35px;">Front Heated Seats</span>
<span class="t" style="left:1572.5px;top:1669px;font-size:13.3px;line-height:15px;letter-spacing:0.22px;color:#000;-webkit-text-stroke:0.35px;">Heated Mirror</span>
<span class="t" style="left:1758px;top:1669px;font-size:13.3px;line-height:15px;letter-spacing:-0.11px;color:#000;-webkit-text-stroke:0.35px;">Heated Steering Wheel</span>
<span class="t" style="left:1943.75px;top:1669px;font-size:13.3px;line-height:15px;letter-spacing:-0.16px;color:#000;-webkit-text-stroke:0.35px;">Keyless Entry System</span>
<span class="t" style="left:1202.5px;top:1695px;font-size:13.3px;line-height:15px;letter-spacing:-0.19px;color:#000;-webkit-text-stroke:0.35px;">Leather Seats</span>
<span class="t" style="left:1387.5px;top:1695px;font-size:13.3px;line-height:15px;letter-spacing:-0.13px;color:#000;-webkit-text-stroke:0.35px;">Leather Steering Wheel</span>
<span class="t" style="left:1572.5px;top:1695px;font-size:13.3px;line-height:15px;letter-spacing:0.08px;color:#000;-webkit-text-stroke:0.35px;">Left-Curtain Air Bag</span>
<span class="t" style="left:1758px;top:1695px;font-size:13.3px;line-height:15px;color:#000;-webkit-text-stroke:0.35px;">MP3 Player</span>
<span class="t" style="left:1943.75px;top:1695px;font-size:13.3px;line-height:15px;letter-spacing:-0.26px;color:#000;-webkit-text-stroke:0.35px;">Navigation Sys.</span>
<span class="t" style="left:1202.5px;top:1720px;font-size:13.3px;line-height:15px;letter-spacing:-0.17px;color:#000;-webkit-text-stroke:0.35px;">Passenger-Front Air Bag</span>
<span class="t" style="left:1387.5px;top:1720px;font-size:13.3px;line-height:15px;letter-spacing:-0.18px;color:#000;-webkit-text-stroke:0.35px;">Power Door Locks</span>
<span class="t" style="left:1572.5px;top:1720px;font-size:13.3px;line-height:15px;letter-spacing:-0.09px;color:#000;-webkit-text-stroke:0.35px;">Power Driver Seat</span>
<span class="t" style="left:1758px;top:1720px;font-size:13.3px;line-height:15px;letter-spacing:-0.02px;color:#000;-webkit-text-stroke:0.35px;">Power Remote Mirror</span>
<span class="t" style="left:1943.75px;top:1720px;font-size:13.3px;line-height:15px;letter-spacing:-0.28px;color:#000;-webkit-text-stroke:0.35px;">Power Steering</span>
<span class="t" style="left:1387.5px;top:1653px;font-size:13.3px;line-height:15px;letter-spacing:0.07px;color:#000;-webkit-text-stroke:0.35px;">Connectivity</span>
<div class="b" style="left:2235.5px;top:75px;width:690px;height:1657px;background:#fff;"></div>
<div class="b" style="left:2235px;top:75px;width:1.4px;height:1657px;background:#e9e9ec;"></div>
<div class="b" style="left:2253.5px;top:88px;width:665.5px;height:51.6px;background:#e4e4e5;border-radius:5.5px;"></div>
<div class="b" style="left:2259px;top:94px;width:163.3px;height:40.6px;background:#fff;border-radius:3.5px;box-shadow:0 1px 2px rgba(0,0,0,.06);"></div>
<span class="t" style="left:2309.38px;top:102px;font-size:20.98px;line-height:23px;letter-spacing:-0.07px;color:#09090b;-webkit-text-stroke:0.5px;">Report</span>
<span class="t" style="left:2476.54px;top:102px;font-size:20.98px;line-height:23px;letter-spacing:0.13px;color:#71717a;-webkit-text-stroke:0.5px;">Notes</span>
<span class="t" style="left:2623.29px;top:102px;font-size:20.98px;line-height:23px;letter-spacing:0.02px;color:#71717a;-webkit-text-stroke:0.5px;">Snapshot</span>
<span class="t" style="left:2809.01px;top:102px;font-size:20.98px;line-height:23px;letter-spacing:0.02px;color:#71717a;-webkit-text-stroke:0.5px;">Chat</span>
<div class="b" style="left:2235.5px;top:156.6px;width:690px;height:1.4px;background:#e9e9ec;"></div>
<div class="b" style="left:2253.5px;top:175px;width:657px;height:50.5px;background:#fff;border-radius:9px;border:1.4px solid #efeff1;"></div>
<span class="t" style="left:2272px;top:189px;font-size:20.98px;line-height:23px;letter-spacing:-0.12px;color:#09090b;-webkit-text-stroke:0.2px;">Independent Medical Examination</span>
<svg class="i" style="left:2869.5px;top:191px;width:23px;height:23px;" viewBox="0 0 24 24" fill="none" stroke="#71717a" stroke-width="1.8" stroke-linecap="round" stroke-linejoin="round"><path d="m6 9 6 6 6-6"/></svg>
<span class="t" style="left:2253.6px;top:248px;font-size:23.4px;line-height:26px;letter-spacing:-0.85px;color:#111827;font-weight:700;">CASE OVERVIEW</span>
<span class="t" style="left:2253.6px;top:290px;font-size:20.98px;line-height:23px;letter-spacing:-0.01px;color:#374151;-webkit-text-stroke:0.3px;">Claimant: John Doe, 03/20/2000, Male, Occupation not specified.</span>
<span class="t" style="left:2253.6px;top:324px;font-size:20.98px;line-height:23px;letter-spacing:0.06px;color:#374151;-webkit-text-stroke:0.3px;">Date of Accident: 08/19/2022</span>
<span class="t" style="left:2253.6px;top:358px;font-size:20.98px;line-height:23px;letter-spacing:-0.07px;color:#374151;-webkit-text-stroke:0.3px;">Accident Description: The claimant was driving when his vehicle was</span>
<span class="t" style="left:2253.6px;top:393px;font-size:20.98px;line-height:23px;letter-spacing:-0.07px;color:#374151;-webkit-text-stroke:0.3px;">rear-ended. The mechanism of injury involved a head jolt.</span>
<span class="t" style="left:2253.6px;top:427px;font-size:20.98px;line-height:23px;letter-spacing:-0.02px;color:#374151;-webkit-text-stroke:0.3px;">Claimed Injuries: Concussion, vertigo, post-traumatic</span>
<span class="t" style="left:2253.6px;top:462px;font-size:20.98px;line-height:23px;letter-spacing:0.04px;color:#374151;-webkit-text-stroke:0.3px;">cervicogenic/migraine-like headaches, post-traumatic dizziness,</span>
<span class="t" style="left:2253.6px;top:496px;font-size:20.98px;line-height:23px;color:#374151;-webkit-text-stroke:0.3px;">anxiety, neck strain, light and noise sensitivity.</span>
<span class="t" style="left:2253.6px;top:531px;font-size:20.98px;line-height:23px;letter-spacing:-0.13px;color:#374151;-webkit-text-stroke:0.3px;">Treatment Received: Physiotherapy (concussion therapy, visual,</span>
<div class="b" style="left:2448.9px;top:553px;width:131.4px;height:2px;background:repeating-linear-gradient(90deg,#4b5563 0 2px,transparent 2px 4px)"></div>
<span class="t" style="left:2253.6px;top:565px;font-size:20.98px;line-height:23px;letter-spacing:-0.08px;color:#374151;-webkit-text-stroke:0.3px;">balance therapy, neck/back manipulations) 1x/week, chiropractic (1x/2</span>
<div class="b" style="left:2739.0px;top:587px;width:109.8px;height:2px;background:repeating-linear-gradient(90deg,#4b5563 0 2px,transparent 2px 4px)"></div>
<span class="t" style="left:2253.6px;top:600px;font-size:20.98px;line-height:23px;letter-spacing:-0.07px;color:#374151;-webkit-text-stroke:0.3px;">weeks), counselling, vestibular rehabilitation, massage therapy, and</span>
<span class="t" style="left:2253.6px;top:634px;font-size:20.98px;line-height:23px;letter-spacing:-0.44px;color:#374151;-webkit-text-stroke:0.3px;">Olanzapine, CBD Oil.</span>
<div class="b" style="left:2253.7px;top:656px;width:103.2px;height:2px;background:repeating-linear-gradient(90deg,#4b5563 0 2px,transparent 2px 4px)"></div>
<span class="t" style="left:2253.6px;top:668px;font-size:20.98px;line-height:23px;letter-spacing:-0.08px;color:#374151;-webkit-text-stroke:0.3px;">Current Status: Intermittent headache (6/10), neck pain (7/10),</span>
<span class="t" style="left:2253.6px;top:703px;font-size:20.98px;line-height:23px;letter-spacing:-0.08px;color:#374151;-webkit-text-stroke:0.3px;">concentration loss. Reports avoiding long drives. Occasional stress,</span>
<span class="t" style="left:2253.6px;top:737px;font-size:20.98px;line-height:23px;letter-spacing:-0.12px;color:#374151;-webkit-text-stroke:0.3px;">driving, but denies PTSD symptoms. Stable mood.</span>
<span class="t" style="left:2253.6px;top:772px;font-size:20.98px;line-height:23px;letter-spacing:-0.08px;color:#374151;-webkit-text-stroke:0.3px;">Fatigue/concentration issues. Reported dizziness and vestibular</span>
<span class="t" style="left:2253.6px;top:806px;font-size:20.98px;line-height:23px;letter-spacing:-0.03px;color:#374151;-webkit-text-stroke:0.3px;">symptoms almost fully resolved. Right shoulder pain and mobility</span>
<span class="t" style="left:2253.6px;top:841px;font-size:20.98px;line-height:23px;letter-spacing:0.13px;color:#374151;-webkit-text-stroke:0.3px;">restriction lingering.</span>
<span class="t" style="left:2253.6px;top:875px;font-size:20.98px;line-height:23px;letter-spacing:-0.18px;color:#374151;-webkit-text-stroke:0.3px;">Referral Question(s):</span>
<span class="t" style="left:2261.6px;top:932px;font-size:20.98px;line-height:23px;letter-spacing:-0.3px;color:#6b7280;-webkit-text-stroke:0.2px;">1.</span>
<span class="t" style="left:2294.29px;top:932px;font-size:20.98px;line-height:23px;color:#374151;-webkit-text-stroke:0.3px;">Impairment: Nondescript, short-lived, nondisabling headaches,</span>
<span class="t" style="left:2294.29px;top:967px;font-size:20.98px;line-height:23px;letter-spacing:-0.05px;color:#374151;-webkit-text-stroke:0.3px;">somewhat exacerbated by accident.</span>
<span class="t" style="left:2261.55px;top:1007px;font-size:20.98px;line-height:23px;letter-spacing:-0.25px;color:#6b7280;-webkit-text-stroke:0.2px;">2.</span>
<span class="t" style="left:2294.29px;top:1007px;font-size:20.98px;line-height:23px;letter-spacing:-0.12px;color:#374151;-webkit-text-stroke:0.3px;">Causation: Headaches somewhat exacerbated by accident.</span>
<span class="t" style="left:2261.6px;top:1047px;font-size:20.98px;line-height:23px;letter-spacing:-0.3px;color:#6b7280;-webkit-text-stroke:0.2px;">3.</span>
<span class="t" style="left:2294.29px;top:1047px;font-size:20.98px;line-height:23px;letter-spacing:-0.1px;color:#374151;-webkit-text-stroke:0.3px;">Objective findings: None on neurologic exam.</span>
<span class="t" style="left:2261.37px;top:1087px;font-size:20.98px;line-height:23px;letter-spacing:-0.07px;color:#6b7280;-webkit-text-stroke:0.2px;">4.</span>
<span class="t" style="left:2294.29px;top:1087px;font-size:20.98px;line-height:23px;letter-spacing:-0.1px;color:#374151;-webkit-text-stroke:0.3px;">Correlation: No findings on neurologic exam.</span>
<span class="t" style="left:2261.6px;top:1127px;font-size:20.98px;line-height:23px;letter-spacing:-0.3px;color:#6b7280;-webkit-text-stroke:0.2px;">5.</span>
<span class="t" style="left:2294.29px;top:1127px;font-size:20.98px;line-height:23px;letter-spacing:-0.1px;color:#374151;-webkit-text-stroke:0.3px;">Imaging: MRI brain normal, suggests no significant intracranial</span>
<span class="t" style="left:2294.29px;top:1162px;font-size:20.98px;line-height:23px;letter-spacing:-0.13px;color:#374151;-webkit-text-stroke:0.3px;">injury.</span>
<span class="t" style="left:2261.6px;top:1202px;font-size:20.98px;line-height:23px;letter-spacing:-0.3px;color:#6b7280;-webkit-text-stroke:0.2px;">6.</span>
<span class="t" style="left:2294.29px;top:1202px;font-size:20.98px;line-height:23px;letter-spacing:-0.04px;color:#374151;-webkit-text-stroke:0.3px;">Pre-existing conditions: Headaches and vertigo exacerbated by</span>
<span class="t" style="left:2294.29px;top:1236px;font-size:20.98px;line-height:23px;letter-spacing:-1.03px;color:#374151;-webkit-text-stroke:0.3px;">MVA.</span>
<span class="t" style="left:2261.6px;top:1277px;font-size:20.98px;line-height:23px;letter-spacing:-0.3px;color:#6b7280;-webkit-text-stroke:0.2px;">7.</span>
<span class="t" style="left:2294.29px;top:1277px;font-size:20.98px;line-height:23px;letter-spacing:-0.02px;color:#374151;-webkit-text-stroke:0.3px;">Inability to work: No neurologic impairments preclude</span>
<span class="t" style="left:2294.29px;top:1311px;font-size:20.98px;line-height:23px;letter-spacing:-0.14px;color:#374151;-webkit-text-stroke:0.3px;">employment.</span>
<span class="t" style="left:2261.6px;top:1351px;font-size:20.98px;line-height:23px;letter-spacing:-0.3px;color:#6b7280;-webkit-text-stroke:0.2px;">8.</span>
<span class="t" style="left:2294.29px;top:1351px;font-size:20.98px;line-height:23px;letter-spacing:-0.06px;color:#374151;-webkit-text-stroke:0.3px;">Objective evidence: Not applicable.</span>
<span class="t" style="left:2261.6px;top:1391px;font-size:20.98px;line-height:23px;letter-spacing:-0.3px;color:#6b7280;-webkit-text-stroke:0.2px;">9.</span>
<span class="t" style="left:2294.29px;top:1391px;font-size:20.98px;line-height:23px;letter-spacing:-0.07px;color:#374151;-webkit-text-stroke:0.3px;">Essential tasks: No neurologic restrictions.</span>
<span class="t" style="left:2250.23px;top:1432px;font-size:20.98px;line-height:23px;letter-spacing:-0.3px;color:#6b7280;-webkit-text-stroke:0.2px;">10.</span>
<span class="t" style="left:2294.29px;top:1432px;font-size:20.98px;line-height:23px;letter-spacing:-0.12px;color:#374151;-webkit-text-stroke:0.3px;">Concurrence with diagnoses: No major disagreements.</span>
<span class="t" style="left:2251.79px;top:1472px;font-size:20.98px;line-height:23px;letter-spacing:-0.3px;color:#6b7280;-webkit-text-stroke:0.2px;">11.</span>
<span class="t" style="left:2294.29px;top:1472px;font-size:20.98px;line-height:23px;letter-spacing:-0.05px;color:#374151;-webkit-text-stroke:0.3px;">Concurrence with interventions: No major disagreements.</span>
<span class="t" style="left:2250.23px;top:1512px;font-size:20.98px;line-height:23px;letter-spacing:-0.3px;color:#6b7280;-webkit-text-stroke:0.2px;">12.</span>
<span class="t" style="left:2294.29px;top:1512px;font-size:20.98px;line-height:23px;letter-spacing:-0.01px;color:#374151;-webkit-text-stroke:0.3px;">Further tests/interventions: None suggested.</span>
<span class="t" style="left:2250.23px;top:1552px;font-size:20.98px;line-height:23px;letter-spacing:-0.3px;color:#6b7280;-webkit-text-stroke:0.2px;">13.</span>
<span class="t" style="left:2294.29px;top:1552px;font-size:20.98px;line-height:23px;letter-spacing:-0.05px;color:#374151;-webkit-text-stroke:0.3px;">Additional information: None required.</span>
<span class="t" style="left:2253.6px;top:1622px;font-size:23.4px;line-height:26px;letter-spacing:-0.54px;color:#111827;font-weight:700;">DOCUMENTS REVIEWED</span>
<div class="b" style="left:2265.4px;top:1671.8px;width:7.4px;height:7.4px;background:#d4d4d8;border-radius:4px;"></div>
<span class="t" style="left:2294.29px;top:1663px;font-size:20.98px;line-height:23px;letter-spacing:-0.05px;color:#374151;font-style:italic;-webkit-text-stroke:0.2px;">Accident Reports:</span>
<span class="t" style="left:2464.76px;top:1663px;font-size:20.98px;line-height:23px;letter-spacing:-0.22px;color:#374151;-webkit-text-stroke:0.3px;">CARSTAR - August 19, 2022 - Estimate for</span>
<div class="b" style="left:2236.4px;top:1686px;width:690px;height:46px;background:#fff;"></div>
<div class="b" style="left:2236.4px;top:1686px;width:690px;height:1.2px;background:#e9e9ec;"></div>
<svg class="i" style="left:2397px;top:1698.2px;width:23px;height:23px;" viewBox="0 0 24 24" fill="none" stroke="#18181b" stroke-width="1.9" stroke-linecap="round" stroke-linejoin="round"><path d="M8 3H5a2 2 0 0 0-2 2v3"/><path d="M21 8V5a2 2 0 0 0-2-2h-3"/><path d="M3 16v3a2 2 0 0 0 2 2h3"/><path d="M16 21h3a2 2 0 0 0 2-2v-3"/></svg>
<span class="t" style="left:2432px;top:1700px;font-size:17.97px;line-height:20px;letter-spacing:0.06px;color:#18181b;-webkit-text-stroke:0.5px;">Maximize</span>
<svg class="i" style="left:2532.2px;top:1698.2px;width:23px;height:23px;" viewBox="0 0 24 24" fill="none" stroke="#18181b" stroke-width="1.9" stroke-linecap="round" stroke-linejoin="round"><rect width="14" height="14" x="8" y="8" rx="2" ry="2"/><path d="M4 16c-1.100 0-2-.9-2-2V4c0-1.100.9-2 2-2h10c1.100 0 2 .9 2 2"/></svg>
<span class="t" style="left:2561.4px;top:1700px;font-size:17.97px;line-height:20px;letter-spacing:0.18px;color:#18181b;-webkit-text-stroke:0.5px;">Copy All</span>
<svg class="i" style="left:2652px;top:1698.2px;width:23px;height:23px;" viewBox="0 0 24 24" fill="none" stroke="#18181b" stroke-width="1.9" stroke-linecap="round" stroke-linejoin="round"><path d="M21 11V5a2 2 0 0 0-2-2H5a2 2 0 0 0-2 2v14a2 2 0 0 0 2 2h6"/><path d="m21 21-9-9"/><path d="M21 15v6h-6"/></svg>
<span class="t" style="left:2687.7px;top:1700px;font-size:17.97px;line-height:20px;letter-spacing:0.07px;color:#18181b;-webkit-text-stroke:0.5px;">Export</span>
<svg class="i" style="left:2753.3px;top:1699.2px;width:21px;height:21px;" viewBox="0 0 24 24" fill="none" stroke="#18181b" stroke-width="1.9" stroke-linecap="round" stroke-linejoin="round"><path d="m6 9 6 6 6-6"/></svg>
</div></div>
<span class="t" style="left:2672.5px;top:1748px;font-size:20.9px;line-height:23px;letter-spacing:-0.42px;color:#fff;-webkit-text-stroke:0.55px;text-shadow:1px 1.5px 2px rgba(0,0,0,.55);">Screenshot by Xnapper.com</span>
</body></html>
